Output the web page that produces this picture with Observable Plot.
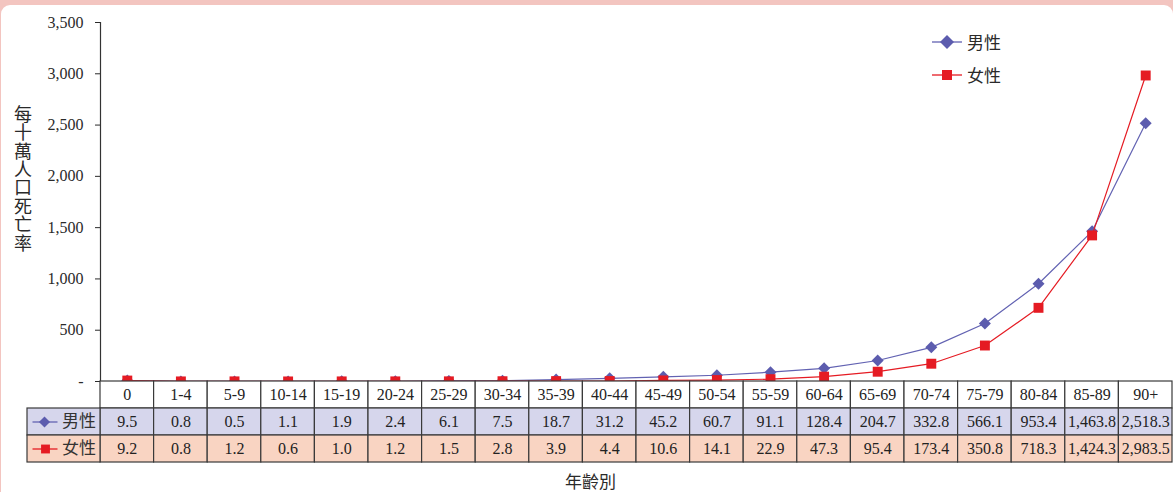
<!DOCTYPE html>
<html><head><meta charset="utf-8">
<script src="https://cdn.jsdelivr.net/npm/d3@7"></script>
<script src="https://cdn.jsdelivr.net/npm/@observablehq/plot@0.6"></script>
<style>
html,body{margin:0;padding:0;background:#f3c5c0;width:1173px;height:492px;overflow:hidden;}
#card{position:absolute;left:1px;top:5px;width:1172px;height:487px;background:#fff;border-radius:9px 9px 0 0;}
.abs{position:absolute;}
#ytitle{left:13px;top:105px;writing-mode:vertical-rl;text-orientation:upright;font:18px "Noto Sans CJK TC";line-height:19px;letter-spacing:0.4px;color:#2a2a2a;}
#xtitle{left:565px;top:472px;font:17px "Noto Sans CJK TC";line-height:17px;color:#2a2a2a;}
.lg{font:17px "Noto Sans CJK TC";color:#2a2a2a;}
</style></head>
<body>
<div id="card"></div>
<div id="chart" class="abs" style="left:0;top:0"></div>
<div id="table" class="abs" style="left:0;top:381px"></div>
<div id="ytitle" class="abs"></div>
<div id="xtitle" class="abs">年齡別</div>
<svg class="abs" style="left:925px;top:28px" width="45" height="60">
  <line x1="7" x2="37" y1="14" y2="14" stroke="#6262b2" stroke-width="1.3"/>
  <path d="M22,7L29,14L22,21L15,14Z" fill="#5c5cae"/>
  <line x1="7" x2="37" y1="47" y2="47" stroke="#e51b23" stroke-width="1.3"/>
  <rect x="17" y="42" width="10" height="10" fill="#e51b23"/>
</svg>
<div class="abs lg" style="left:967px;top:29px">男性</div>
<div class="abs lg" style="left:967px;top:62px">女性</div>
<script>
const ageGroups = ["0","1-4","5-9","10-14","15-19","20-24","25-29","30-34","35-39","40-44","45-49","50-54","55-59","60-64","65-69","70-74","75-79","80-84","85-89","90+"];
const male = [9.5,0.8,0.5,1.1,1.9,2.4,6.1,7.5,18.7,31.2,45.2,60.7,91.1,128.4,204.7,332.8,566.1,953.4,1463.8,2518.3];
const female = [9.2,0.8,1.2,0.6,1.0,1.2,1.5,2.8,3.9,4.4,10.6,14.1,22.9,47.3,95.4,173.4,350.8,718.3,1424.3,2983.5];
const seriesNames = ["男性","女性"];
const yTicks = [0,500,1000,1500,2000,2500,3000,3500];
const yTitle = "每十萬人口死亡率";

document.getElementById("ytitle").textContent = yTitle;

const maleColor = "#6262b2", maleFill = "#5c5cae", femaleColor = "#e51b23";
const maleRowFill = "#d6d6ec", femaleRowFill = "#f9d4c2";
const serif = "Liberation Serif", cjk = "Noto Sans CJK TC";

const maleData = male.map((v,i)=>({x:i+0.5, v}));
const femaleData = female.map((v,i)=>({x:i+0.5, v}));

const chart = Plot.plot({
  width:1173, height:400, marginLeft:100, marginRight:1, marginTop:22, marginBottom:19,
  x:{domain:[0,ageGroups.length], axis:null},
  y:{domain:[0,3500], label:null},
  style:{background:"transparent", overflow:"visible"},
  marks:[
    Plot.axisY({ticks:yTicks, tickFormat:d=> d===0 ? "-" : d3.format(",")(d), tickSize:5, tickPadding:12, fontSize:16, fontFamily:serif, color:"#2a2a2a", label:null}),
    Plot.ruleX([0], {y1:0, y2:3500, stroke:"#333", strokeWidth:1.2}),
    Plot.line(maleData, {x:"x", y:"v", stroke:maleColor, strokeWidth:1.2}),
    Plot.dot(maleData, {x:"x", y:"v", symbol:"diamond2", r:5.4, fill:maleFill}),
    Plot.line(femaleData, {x:"x", y:"v", stroke:femaleColor, strokeWidth:1.2}),
    Plot.dot(femaleData, {x:"x", y:"v", symbol:"square", r:5.6, fill:femaleColor})
  ]
});
document.getElementById("chart").appendChild(chart);

// table
const colW = (1172-100)/ageGroups.length;
const px2x = p => (p-100)/colW;
const fmt = d3.format(",.1f");
const cells = [];
ageGroups.forEach((g,i)=>{
  cells.push({row:0, x1:i, x2:i+1, fill:"#ffffff", text:g});
  cells.push({row:1, x1:i, x2:i+1, fill:maleRowFill, text:fmt(male[i])});
  cells.push({row:2, x1:i, x2:i+1, fill:femaleRowFill, text:fmt(female[i])});
});
const headers = seriesNames.map((s,k)=>({row:k+1, x1:px2x(27), x2:0, fill:k===0?maleRowFill:femaleRowFill, text:s, color:k===0?maleColor:femaleColor}));

const table = Plot.plot({
  width:1173, height:82, marginLeft:100, marginRight:1, marginTop:0, marginBottom:1,
  x:{domain:[0,ageGroups.length], axis:null},
  y:{domain:[0,3], axis:null, reverse:true},
  color:{type:"identity"},
  style:{background:"transparent", overflow:"visible"},
  marks:[
    Plot.rect(cells.concat(headers), {x1:"x1", x2:"x2", y1:"row", y2:d=>d.row+1, fill:"fill", stroke:"#3a3a3a", strokeWidth:1.2}),
    Plot.text(cells, {x:d=>(d.x1+d.x2)/2, y:d=>d.row+0.5, text:"text", fontSize:16, fontFamily:serif, fill:"#222"}),
    Plot.link(headers, {x1:px2x(32), x2:px2x(57), y1:d=>d.row+0.5, y2:d=>d.row+0.5, stroke:"color", strokeWidth:1.3}),
    Plot.dot(headers.slice(0,1), {x:px2x(44), y:d=>d.row+0.5, symbol:"diamond2", r:5, fill:maleFill}),
    Plot.dot(headers.slice(1), {x:px2x(45), y:d=>d.row+0.5, symbol:"square", r:5, fill:femaleColor}),
    Plot.text(headers, {x:px2x(78.5), y:d=>d.row+0.5, text:"text", fontSize:17, fontFamily:cjk, fill:"#333"})
  ]
});
document.getElementById("table").appendChild(table);
</script>
</body></html>
